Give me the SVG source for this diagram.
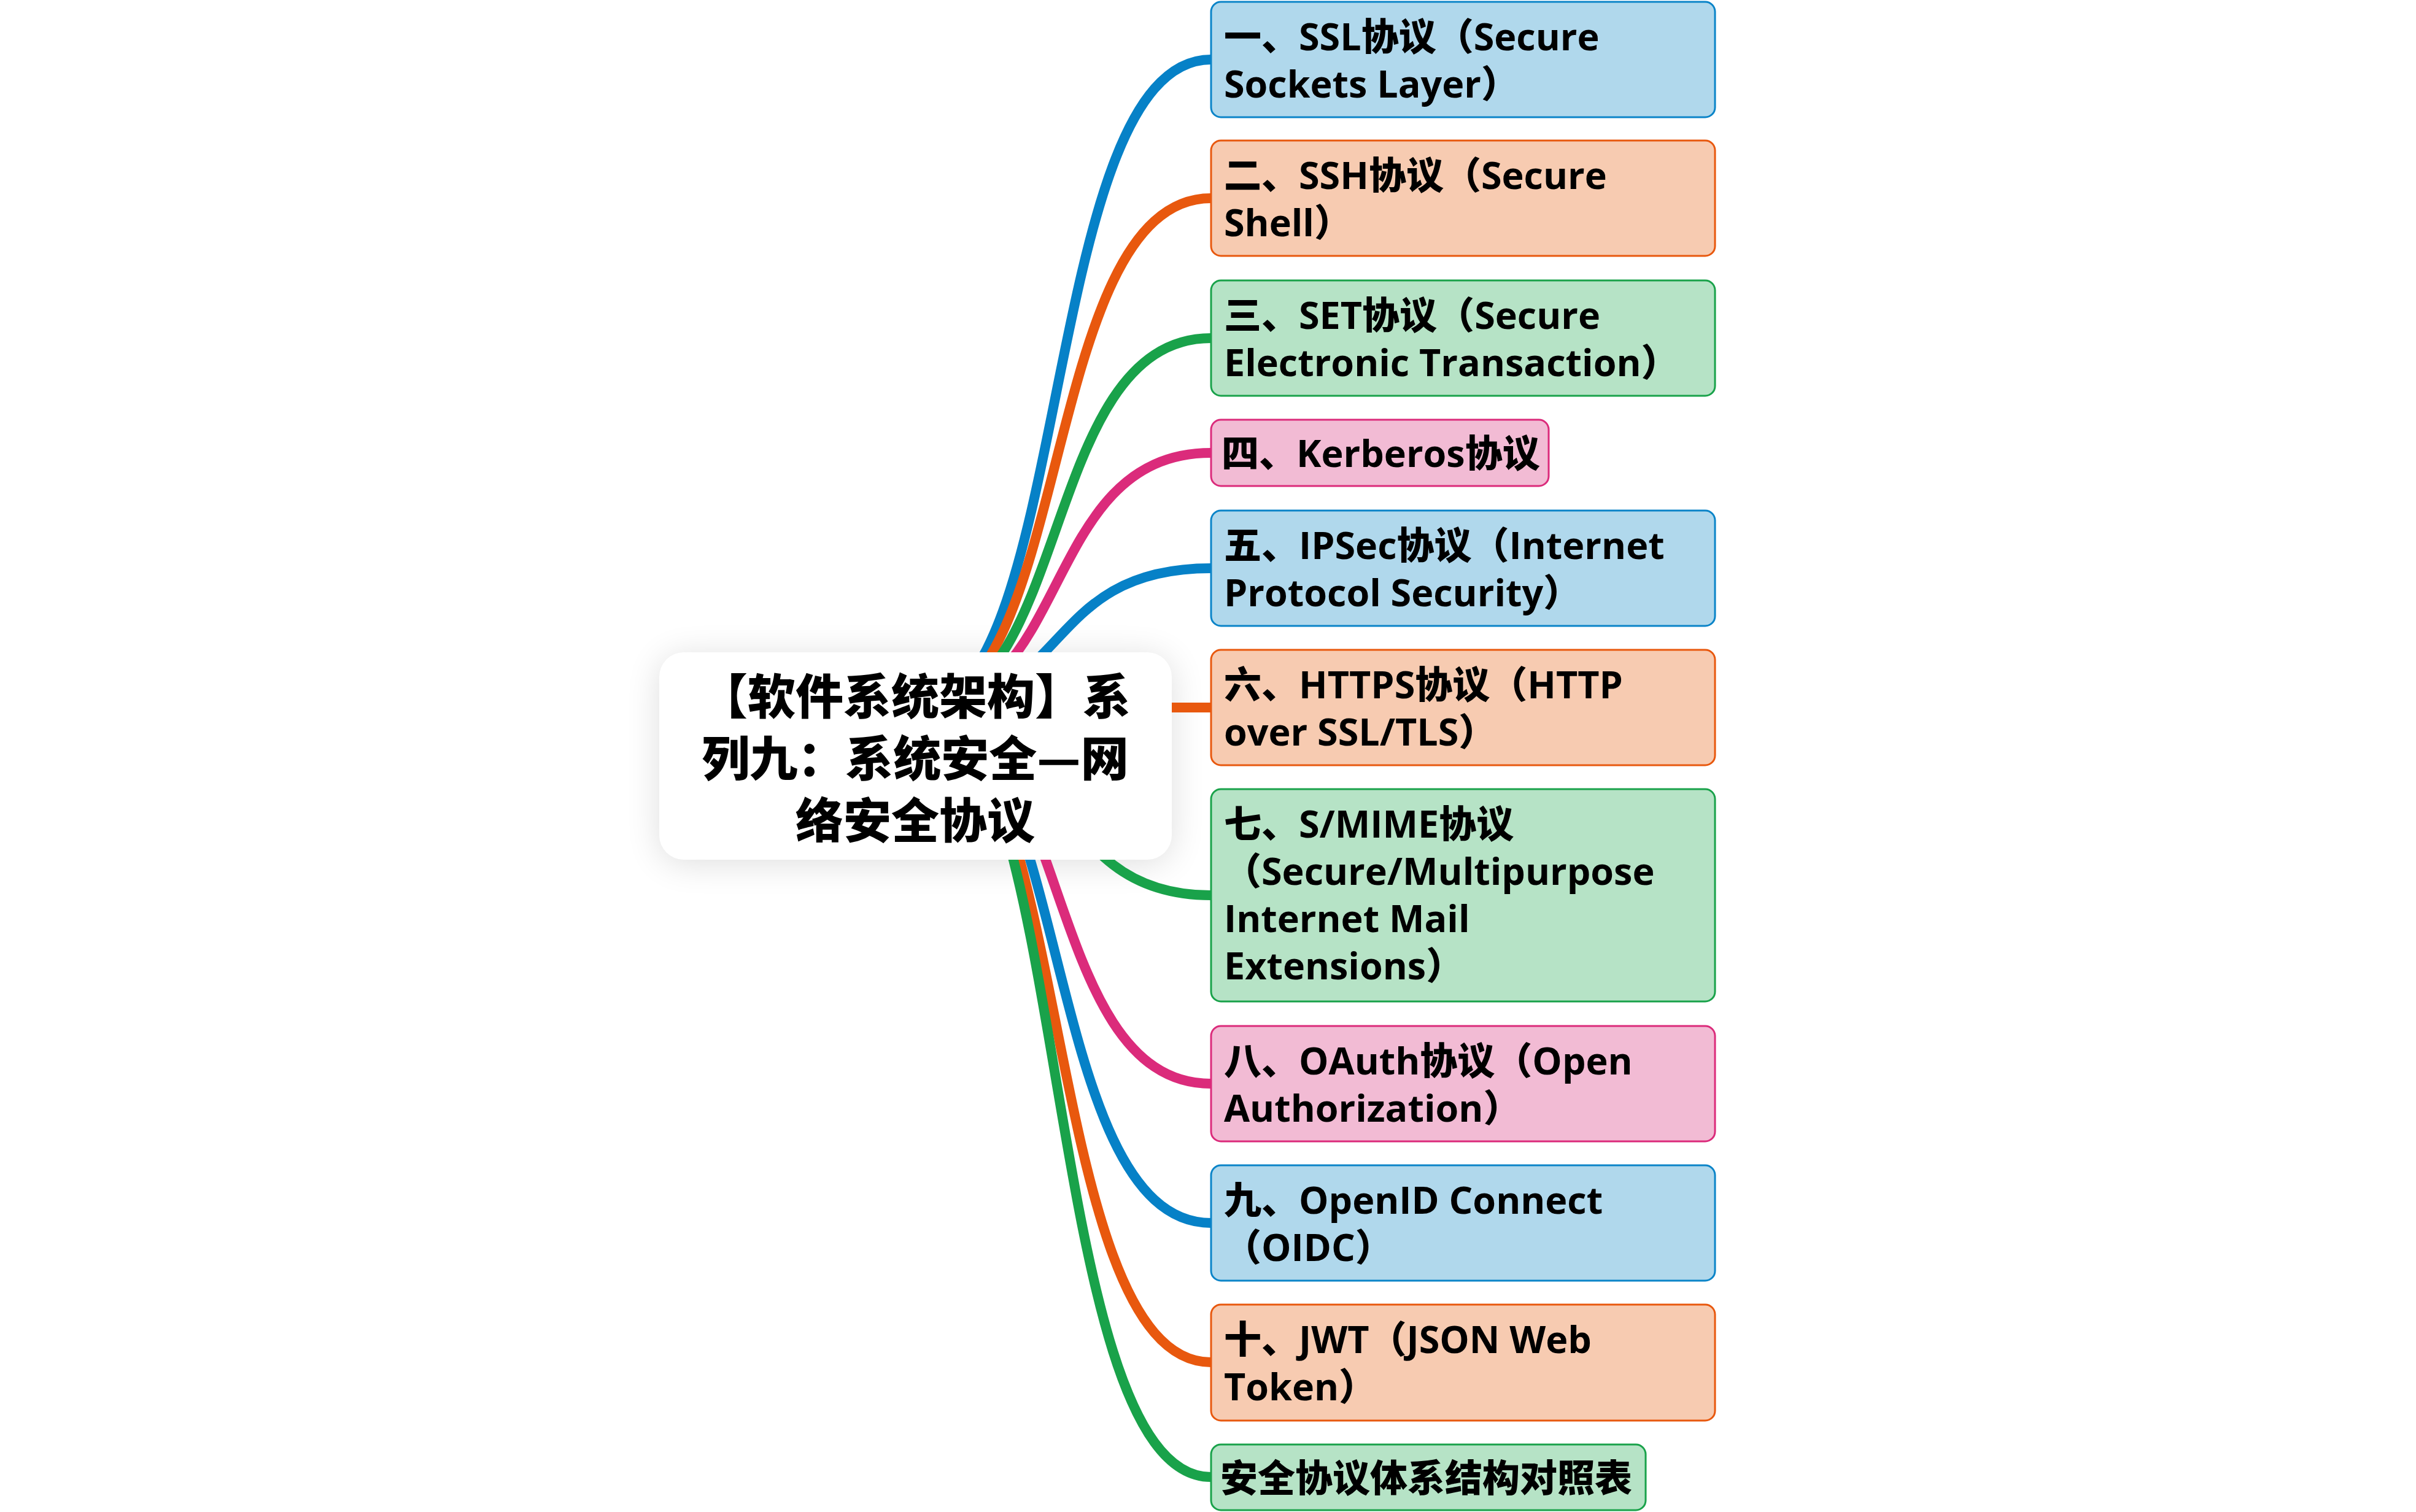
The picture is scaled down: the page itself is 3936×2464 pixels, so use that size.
<svg xmlns="http://www.w3.org/2000/svg" width="3936" height="2464" viewBox="0 0 3936 2464">
<style>
.t{font-family:'Open Sans','Noto Sans CJK SC',sans-serif;font-weight:700;font-size:61px;fill:#000}
.k{font-family:'Noto Sans CJK SC',sans-serif;font-weight:900}
.ct{font-family:'Noto Sans CJK SC',sans-serif;font-weight:900;font-size:78px;fill:#000;text-anchor:middle}
.c{fill:none;stroke-width:16;stroke-linecap:butt}
.cb{stroke:#0681C7}.co{stroke:#E8580E}.cg{stroke:#19A24A}.cp{stroke:#DB2B7B}
.nb{fill:#B0D8EC;stroke:#0A84C8;stroke-width:3}
.no{fill:#F7CBB1;stroke:#E8580E;stroke-width:3}
.ng{fill:#B6E3C6;stroke:#19A24A;stroke-width:3}
.np{fill:#F2BBD4;stroke:#DB2B7B;stroke-width:3}
</style>
<defs>
<filter id="sh" x="-20%" y="-30%" width="140%" height="160%">
<feGaussianBlur stdDeviation="28"/>
</filter>
</defs>
<rect width="3936" height="2464" fill="#FFFFFF"/>
<rect x="1074" y="1069" width="835" height="338" rx="40" fill="#000" opacity="0.13" filter="url(#sh)"/>
<g id="connectors">
<path class="c cb" d="M1495,1153 C1747,1153 1694,97 1973,97"/>
<path class="c co" d="M1495,1153 C1747,1153 1694,323 1973,323"/>
<path class="c cg" d="M1495,1153 C1747,1153 1694,551 1973,551"/>
<path class="c cp" d="M1495,1153 C1747,1153 1694,738 1973,738"/>
<path class="c cb" d="M1495,1153 C1747,1153 1694,926 1973,926"/>
<path class="c co" d="M1495,1153 L1973,1153"/>
<path class="c cg" d="M1495,1153 C1747,1153 1694,1459 1973,1459"/>
<path class="c cp" d="M1495,1153 C1747,1153 1694,1766 1973,1766"/>
<path class="c cb" d="M1495,1153 C1747,1153 1694,1993 1973,1993"/>
<path class="c co" d="M1495,1153 C1747,1153 1694,2220 1973,2220"/>
<path class="c cg" d="M1495,1153 C1747,1153 1694,2407 1973,2407"/>
</g>
<g id="center">
<rect x="1074" y="1063" width="835" height="338" rx="40" fill="#FFFFFF"/>
<text class="ct" x="1491" y="1164">【软件系统架构】系</text>
<text class="ct" x="1491" y="1265">列九：系统安全—网</text>
<text class="ct" x="1491" y="1366">络安全协议</text>
</g>
<g id="n1">
<rect class="nb" x="1973" y="3" width="821" height="188" rx="16"/>
<text class="t" x="1994" y="82"><tspan class="k">一、</tspan>SSL<tspan class="k">协议（</tspan>Secure</text>
<text class="t" x="1994" y="159">Sockets Layer<tspan class="k">）</tspan></text>
</g>
<g id="n2">
<rect class="no" x="1973" y="229" width="821" height="188" rx="16"/>
<text class="t" x="1994" y="308"><tspan class="k">二、</tspan>SSH<tspan class="k">协议（</tspan>Secure</text>
<text class="t" x="1994" y="385">Shell<tspan class="k">）</tspan></text>
</g>
<g id="n3">
<rect class="ng" x="1973" y="457" width="821" height="188" rx="16"/>
<text class="t" x="1994" y="536"><tspan class="k">三、</tspan>SET<tspan class="k">协议（</tspan>Secure</text>
<text class="t" x="1994" y="613">Electronic Transaction<tspan class="k">）</tspan></text>
</g>
<g id="n4">
<rect class="np" x="1973" y="684" width="550" height="108" rx="16"/>
<text class="t" x="1990" y="761"><tspan class="k">四、</tspan>Kerberos<tspan class="k">协议</tspan></text>
</g>
<g id="n5">
<rect class="nb" x="1973" y="832" width="821" height="188" rx="16"/>
<text class="t" x="1994" y="911"><tspan class="k">五、</tspan>IPSec<tspan class="k">协议（</tspan>Internet</text>
<text class="t" x="1994" y="988">Protocol Security<tspan class="k">）</tspan></text>
</g>
<g id="n6">
<rect class="no" x="1973" y="1059" width="821" height="188" rx="16"/>
<text class="t" x="1994" y="1138"><tspan class="k">六、</tspan>HTTPS<tspan class="k">协议（</tspan>HTTP</text>
<text class="t" x="1994" y="1215">over SSL/TLS<tspan class="k">）</tspan></text>
</g>
<g id="n7">
<rect class="ng" x="1973" y="1286" width="821" height="346" rx="16"/>
<text class="t" x="1994" y="1365"><tspan class="k">七、</tspan>S/MIME<tspan class="k">协议</tspan></text>
<text class="t" x="1994" y="1442"><tspan class="k">（</tspan>Secure/Multipurpose</text>
<text class="t" x="1994" y="1519">Internet Mail</text>
<text class="t" x="1994" y="1596">Extensions<tspan class="k">）</tspan></text>
</g>
<g id="n8">
<rect class="np" x="1973" y="1672" width="821" height="188" rx="16"/>
<text class="t" x="1994" y="1751"><tspan class="k">八、</tspan>OAuth<tspan class="k">协议（</tspan>Open</text>
<text class="t" x="1994" y="1828">Authorization<tspan class="k">）</tspan></text>
</g>
<g id="n9">
<rect class="nb" x="1973" y="1899" width="821" height="188" rx="16"/>
<text class="t" x="1994" y="1978"><tspan class="k">九、</tspan>OpenID Connect</text>
<text class="t" x="1994" y="2055"><tspan class="k">（</tspan>OIDC<tspan class="k">）</tspan></text>
</g>
<g id="n10">
<rect class="no" x="1973" y="2126" width="821" height="189" rx="16"/>
<text class="t" x="1994" y="2205"><tspan class="k">十、</tspan>JWT<tspan class="k">（</tspan>JSON Web</text>
<text class="t" x="1994" y="2282">Token<tspan class="k">）</tspan></text>
</g>
<g id="n11">
<rect class="ng" x="1973" y="2354" width="708" height="107" rx="16"/>
<text class="t k" x="1988" y="2431">安全协议体系结构对照表</text>
</g>
</svg>
